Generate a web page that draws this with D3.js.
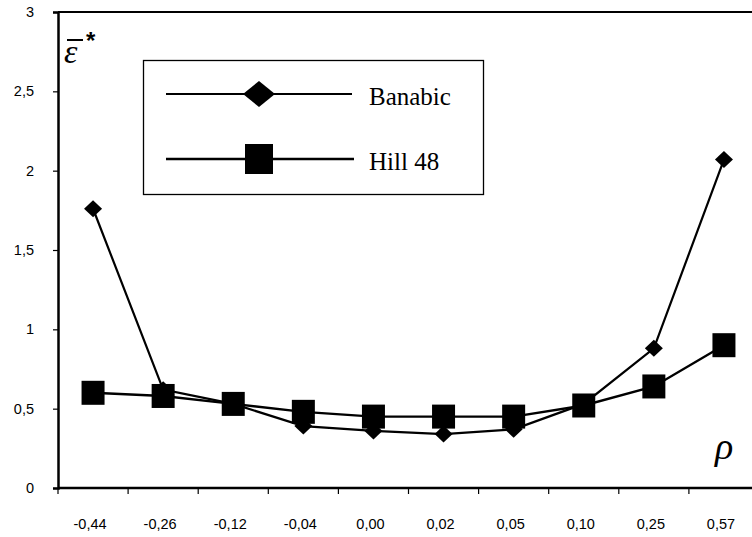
<!DOCTYPE html>
<html>
    <head>
        <script src="https://d3js.org/d3.v7.min.js"></script>
        <style>
            body { margin: 0; background: #fff; }
            #vizBody { width: 752px; height: 537px; }
        </style>
    </head>
    <body>
        <div id="vizBody"></div>
    </body>
    <script>
        // data
        let categories = ["-0,44", "-0,26", "-0,12", "-0,04", "0,00", "0,02", "0,05", "0,10", "0,25", "0,57"];
        let banabic = [1.76, 0.62, 0.53, 0.39, 0.36, 0.34, 0.37, 0.53, 0.88, 2.07];
        let hill48 = [0.60, 0.58, 0.53, 0.48, 0.45, 0.45, 0.45, 0.52, 0.64, 0.90];
        let yTicks = [0, 0.5, 1, 1.5, 2, 2.5, 3];

        let width = 752, height = 537;
        let plotLeft = 58, plotTop = 12, plotBottom = 488;

        let svg = d3.select("#vizBody")
                    .append("svg")
                        .attr("width", width)
                        .attr("height", height);

        //x scale: one band per category, ticks on band edges
        let xScale = d3.scaleBand()
                       .domain(categories)
                       .range([plotLeft, plotLeft + 70.1 * categories.length])
                       .padding(0);
        let cx = d => xScale(d) + xScale.bandwidth() / 2;

        let yScale = d3.scaleLinear()
                       .domain([0, 3])
                       .range([plotBottom, plotTop]);

        //top frame line
        svg.append("line")
           .attr("x1", plotLeft).attr("x2", width)
           .attr("y1", plotTop).attr("y2", plotTop)
           .attr("stroke", "#000").attr("stroke-width", 2);

        //y axis
        let yAxis = svg.append("g")
                       .attr("transform", "translate(" + plotLeft + ",0)")
                       .call(d3.axisLeft(yScale)
                               .tickValues(yTicks)
                               .tickSize(5)
                               .tickPadding(19)
                               .tickFormat(d => String(d).replace(".", ",")));
        yAxis.select(".domain").attr("stroke-width", 2.5);
        yAxis.selectAll(".tick line").attr("stroke-width", 1.2);

        //x axis: labels centred in bands
        let xAxis = svg.append("g")
                       .attr("transform", "translate(0," + plotBottom + ")")
                       .call(d3.axisBottom(xScale).tickSize(0).tickPadding(31));
        xAxis.select(".domain").attr("d", "M" + plotLeft + ",0H" + width).attr("stroke-width", 2.5);
        xAxis.selectAll(".tick text").attr("dx", -3);

        svg.selectAll(".tick text")
           .attr("font-family", "Liberation Sans, Arial, sans-serif")
           .attr("font-size", 14.5)
           .attr("fill", "#000");

        //x tick marks on band boundaries
        svg.append("g")
           .selectAll("line")
           .data(categories)
           .join("line")
              .attr("x1", d => xScale(d)).attr("x2", d => xScale(d))
              .attr("y1", plotBottom).attr("y2", plotBottom + 6)
              .attr("stroke", "#000").attr("stroke-width", 1.2);

        let line = d3.line()
                     .x((d, i) => cx(categories[i]))
                     .y(d => yScale(d));

        let diamond = (x, y, w, h) => "M" + x + "," + (y - h) + "L" + (x + w) + "," + y +
                                      "L" + x + "," + (y + h) + "L" + (x - w) + "," + y + "Z";

        //Banabic series
        svg.append("path")
           .datum(banabic)
           .attr("d", line)
           .attr("fill", "none").attr("stroke", "#000").attr("stroke-width", 2.2);
        svg.append("g")
           .selectAll("path")
           .data(banabic)
           .join("path")
              .attr("d", (d, i) => diamond(cx(categories[i]), yScale(d), 9, 8.5))
              .attr("fill", "#000");

        //Hill 48 series
        svg.append("path")
           .datum(hill48)
           .attr("d", line)
           .attr("fill", "none").attr("stroke", "#000").attr("stroke-width", 2.4);
        svg.append("g")
           .selectAll("rect")
           .data(hill48)
           .join("rect")
              .attr("x", (d, i) => cx(categories[i]) - 11.5)
              .attr("y", d => yScale(d) - 12)
              .attr("width", 23).attr("height", 24)
              .attr("fill", "#000");

        //legend
        let legend = svg.append("g");
        legend.append("rect")
              .attr("x", 143.5).attr("y", 60.5)
              .attr("width", 340).attr("height", 134)
              .attr("fill", "#fff").attr("stroke", "#000").attr("stroke-width", 1.3);
        legend.append("line")
              .attr("x1", 166).attr("x2", 352).attr("y1", 94).attr("y2", 94)
              .attr("stroke", "#000").attr("stroke-width", 2);
        legend.append("path")
              .attr("d", diamond(259, 94, 16, 13))
              .attr("fill", "#000");
        legend.append("line")
              .attr("x1", 166).attr("x2", 354).attr("y1", 159).attr("y2", 159)
              .attr("stroke", "#000").attr("stroke-width", 2.5);
        legend.append("rect")
              .attr("x", 245).attr("y", 144).attr("width", 28).attr("height", 30)
              .attr("fill", "#000");
        legend.selectAll("text")
              .data(["Banabic", "Hill 48"])
              .join("text")
                 .attr("x", 369)
                 .attr("y", (d, i) => 105 + i * 65)
                 .attr("font-family", "Liberation Serif, Times New Roman, serif")
                 .attr("font-size", 25)
                 .text(d => d);

        //axis titles
        svg.append("text")
           .attr("x", 64).attr("y", 63)
           .attr("font-family", "Liberation Serif, serif")
           .attr("font-style", "italic")
           .attr("font-size", 34)
           .text("ε");
        svg.append("line")
           .attr("x1", 67).attr("x2", 83).attr("y1", 40).attr("y2", 40)
           .attr("stroke", "#000").attr("stroke-width", 2);
        svg.append("text")
           .attr("x", 86).attr("y", 49)
           .attr("font-family", "Liberation Sans, sans-serif")
           .attr("font-weight", "bold")
           .attr("font-size", 24)
           .text("*");
        svg.append("text")
           .attr("x", 715).attr("y", 459)
           .attr("font-family", "Liberation Serif, serif")
           .attr("font-style", "italic")
           .attr("font-size", 38)
           .text("ρ");
    </script>
</html>
